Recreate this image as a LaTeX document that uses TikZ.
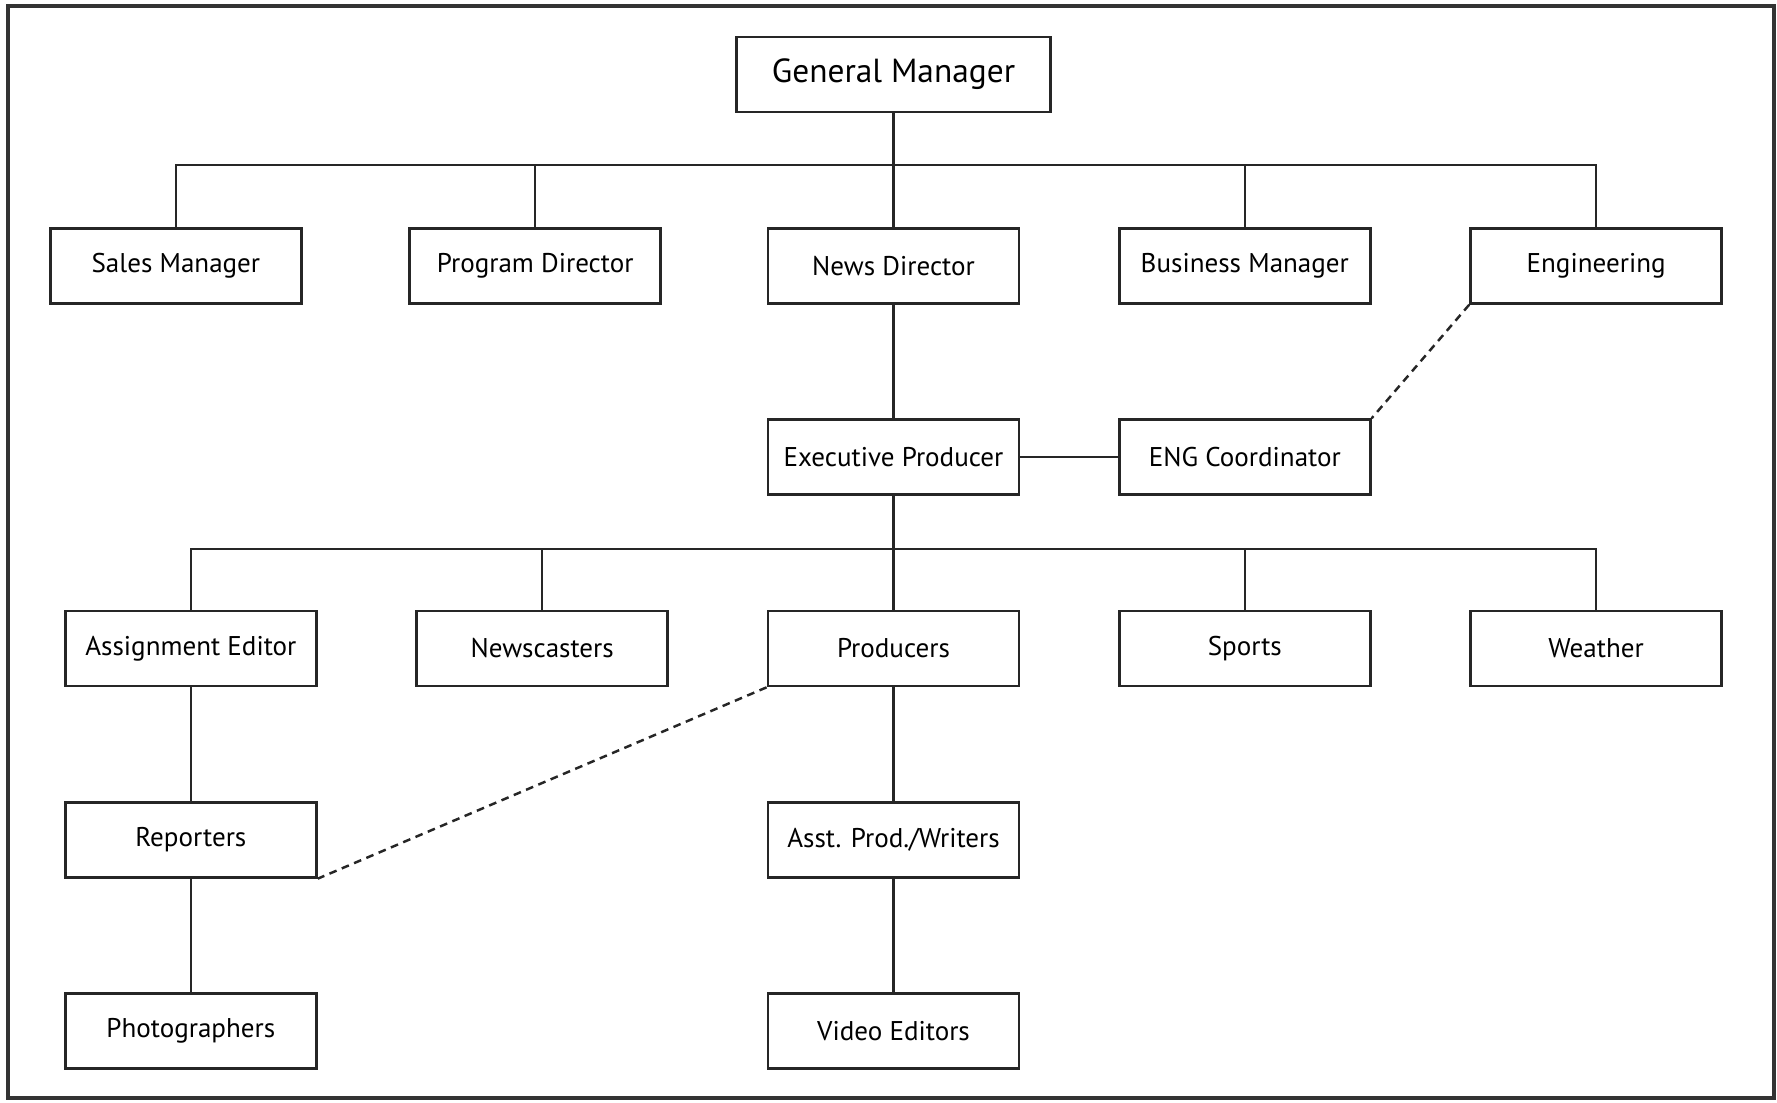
\documentclass[tikz,border=0pt]{standalone}
\usepackage{fontspec}
\setmainfont{PT Sans}
\usetikzlibrary{positioning}

\begin{document}
\begin{tikzpicture}[
    node distance=1.135cm and 0.975cm,
    box/.style={rectangle, draw=black!85, line width=0.8pt, minimum width=2.51cm, minimum height=0.75cm, inner sep=2pt, font=\fontsize{7.7}{9}\selectfont},
    line/.style={line width=0.6pt, black!85},
    dashlink/.style={line width=0.7pt, black!85, dash pattern=on 2.2pt off 1.6pt}
]

\useasboundingbox (0,0) rectangle (17.77,-11.03);

% Page frame
\draw[line width=1.1pt, black!80] (0.08,-0.06) rectangle (17.74,-10.98);

% General Manager
\node[box, minimum width=3.14cm, font=\fontsize{9.5}{11}\selectfont] (gm) at (8.935,-0.745) {General Manager};

% First level
\node[box, below=of gm] (news) {News Director};
\node[box, left=1.045cm of news] (prog) {Program Director};
\node[box, left=1.055cm of prog] (sales) {Sales Manager};
\node[box, right=of news] (bman) {Business Manager};
\node[box, right=of bman] (eng) {Engineering};

% Newsroom
\node[box, below=of news] (exec) {Executive Producer};
\node[box, right=of exec] (engc) {ENG Coordinator};

\node[box, below=of exec] (prod) {Producers};
\node[box, left=of prod] (cast) {Newscasters};
\node[box, left=of cast] (assign) {Assignment Editor};
\node[box, right=of prod] (sports) {Sports};
\node[box, right=of sports] (weather) {Weather};

\node[box, below=of assign] (rep) {Reporters};
\node[box, below=of rep] (photo) {Photographers};
\node[box, below=of prod] (asst) {Asst. Prod./Writers};
\node[box, below=of asst] (video) {Video Editors};

% Connections
\coordinate (bus1) at ([yshift=-0.52cm]gm.south);
\coordinate (bus2) at ([yshift=-0.53cm]exec.south);

\draw[line] (gm) -- (news);
\draw[line] (sales.north) |- (bus1) -| (eng.north);
\foreach \n in {prog, bman}
    \draw[line] (\n.north) -- (\n.north |- bus1);

\draw[line] (news) -- (exec);
\draw[line] (exec) -- (engc);
\draw[dashlink] (eng.south west) -- (engc.north east);

\draw[line] (exec) -- (prod);
\draw[line] (assign.north) |- (bus2) -| (weather.north);
\foreach \n in {cast, sports}
    \draw[line] (\n.north) -- (\n.north |- bus2);

\draw[line] (assign) -- (rep);
\draw[line] (rep) -- (photo);
\draw[line] (prod) -- (asst);
\draw[line] (asst) -- (video);
\draw[dashlink] (prod.south west) -- (rep.south east);

\end{tikzpicture}
\end{document}
